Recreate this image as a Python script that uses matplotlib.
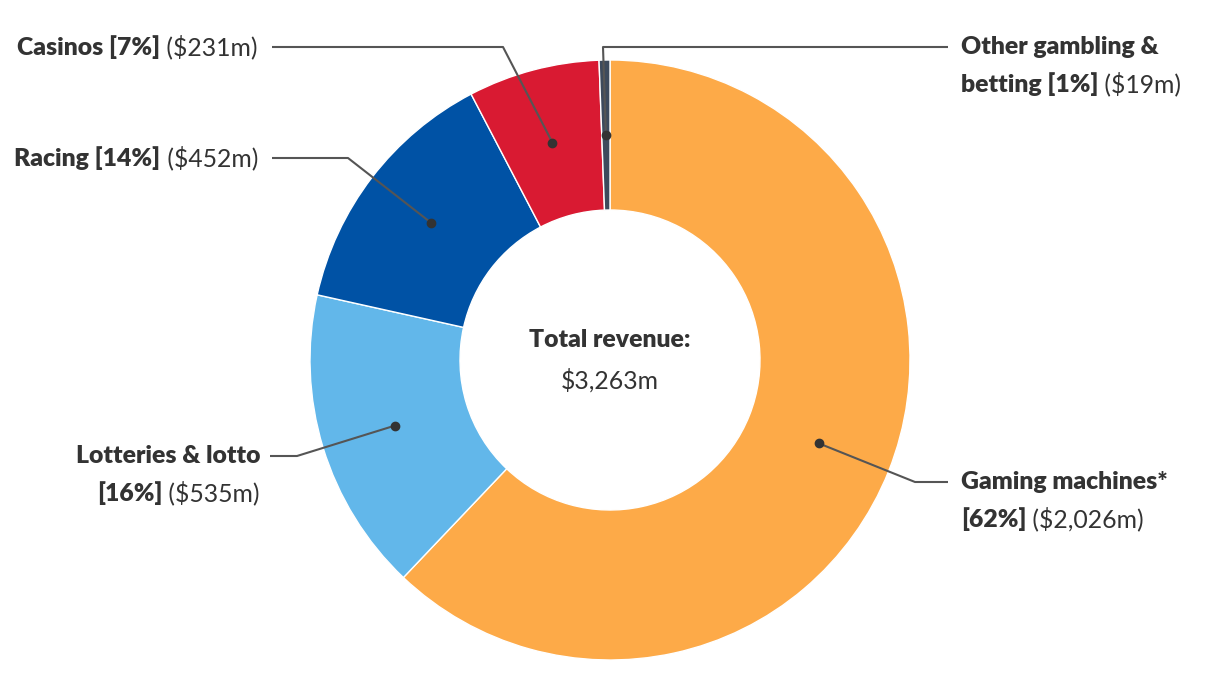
import numpy as np
import matplotlib.pyplot as plt

plt.rcParams['font.family'] = ['Lato', 'DejaVu Sans']

# Data
categories = ['Gaming machines*', 'Lotteries & lotto', 'Racing', 'Casinos',
              'Other gambling & betting']
revenue = [2026, 535, 452, 231, 19]  # $m
colors = ['#FDAA48', '#62B7EA', '#0052A5', '#D91A32', '#3D4A5C']

# label layout: (bold lines, regular suffix, text x, first-line y, align, elbow x, end x) in pixels
label_layout = [
    (['Gaming machines*', '[62%]'], ' ($2,026m)', 961, 482, 'left', 915, 948),
    (['Lotteries & lotto', '[16%]'], ' ($535m)', 260, 456, 'right', 297, 270),
    (['Racing [14%]'], ' ($452m)', 258, 158, 'right', 348, 272),
    (['Casinos [7%]'], ' ($231m)', 258, 47, 'right', 503, 272),
    (['Other gambling &', 'betting [1%]'], ' ($19m)', 961, 47, 'left', 603, 948),
]

W, H = 1220, 700
cx, cy = 610, 360
R_out, R_in = 300, 150
txt_col = '#333333'
fs = 17.8
line_h = 37

fig = plt.figure(figsize=(W / 100, H / 100), dpi=100)
ax = fig.add_axes([0, 0, 1, 1])
ax.set_xlim(0, W)
ax.set_ylim(0, H)
ax.set_aspect('equal')
ax.axis('off')

def py(y):
    # convert image-style y (from top) to data y
    return H - y

wedges, _ = ax.pie(revenue, colors=colors, startangle=90, counterclock=False,
                   radius=R_out, center=(cx, py(cy)),
                   wedgeprops=dict(width=R_out - R_in, edgecolor='white', linewidth=1))
ax.set_xlim(0, W)
ax.set_ylim(0, H)

total = sum(revenue)
renderer = fig.canvas.get_renderer()

def text_width(t):
    bb = t.get_window_extent(renderer=renderer)
    return bb.width

for w, lay in zip(wedges, label_layout):
    bold_lines, suffix, tx, ty, align, ex, endx = lay
    mid = np.deg2rad((w.theta1 + w.theta2) / 2)
    r_mid = (R_out + R_in) / 2
    dx = cx + r_mid * np.cos(mid)
    dy = py(cy) + r_mid * np.sin(mid)
    ax.plot([dx, ex, endx], [dy, py(ty), py(ty)], color='#555555', lw=1.5,
            solid_capstyle='butt', zorder=3)
    ax.plot(dx, dy, 'o', color=txt_col, ms=6, zorder=4)

    n = len(bold_lines)
    for i, bl in enumerate(bold_lines):
        yy = py(ty + i * line_h)
        last = i == n - 1
        if align == 'left':
            tb = ax.text(tx, yy, bl, ha='left', va='center', fontsize=fs,
                         fontweight='heavy', color=txt_col)
            if last:
                wb = text_width(tb)
                ax.text(tx + wb, yy, suffix, ha='left', va='center', fontsize=fs,
                        color=txt_col)
        else:
            if last:
                tr = ax.text(tx, yy, suffix, ha='right', va='center', fontsize=fs,
                             color=txt_col)
                wr = text_width(tr)
                ax.text(tx - wr, yy, bl, ha='right', va='center', fontsize=fs,
                        fontweight='heavy', color=txt_col)
            else:
                ax.text(tx, yy, bl, ha='right', va='center', fontsize=fs,
                        fontweight='heavy', color=txt_col)

ax.text(cx, py(340), 'Total revenue:', ha='center', va='center', fontsize=fs,
        fontweight='heavy', color=txt_col)
ax.text(cx, py(380), f'${total:,}m', ha='center', va='center', fontsize=fs,
        color=txt_col)

fig.savefig('out.png', dpi=100, facecolor='white')
